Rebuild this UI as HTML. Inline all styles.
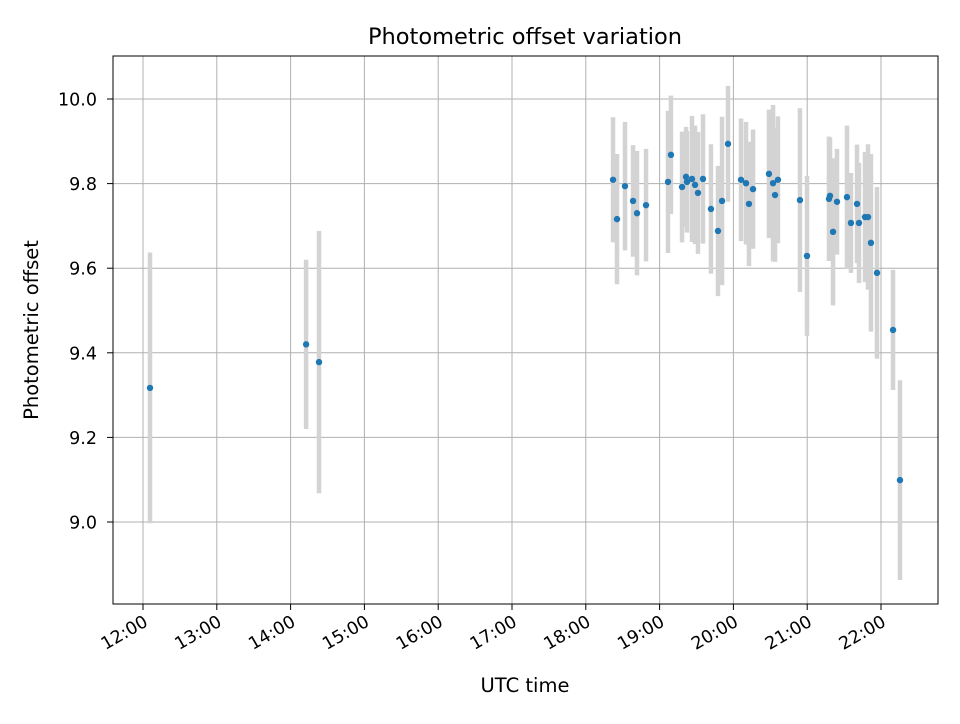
<!DOCTYPE html>
<html><head><meta charset="utf-8"><style>
body{margin:0;background:#fff;font-family:"DejaVu Sans","Liberation Sans",sans-serif}
</style></head><body>
<svg id="chart" width="960" height="720" xmlns="http://www.w3.org/2000/svg" font-family="DejaVu Sans, Liberation Sans, sans-serif">
<rect width="960" height="720" fill="#fff"/>
<text x="525" y="44" text-anchor="middle" font-size="22.5">Photometric offset variation</text>
<g id="grid"></g>
<g id="bars"></g>
<g id="pts"></g>
<rect x="113" y="56" width="825" height="548" fill="none" stroke="#000" stroke-width="1"/>
<g id="xt"></g>
<g id="yt"></g>
<text x="525" y="692" text-anchor="middle" font-size="19.5">UTC time</text>
<text transform="translate(38,330) rotate(-90)" text-anchor="middle" font-size="19.5">Photometric offset</text>
</svg>
<script>
const hours=[12.095,14.21,14.385,18.369,18.423,18.531,18.640,18.694,18.816,19.114,19.154,19.304,19.358,19.371,19.439,19.480,19.520,19.588,19.696,19.791,19.846,19.927,20.103,20.171,20.211,20.266,20.482,20.537,20.564,20.604,20.902,20.997,21.295,21.309,21.350,21.404,21.539,21.593,21.675,21.702,21.783,21.824,21.864,21.946,22.163,22.257];
const offsets=[9.317,9.42,9.378,9.809,9.716,9.794,9.759,9.730,9.749,9.804,9.868,9.792,9.816,9.804,9.811,9.797,9.778,9.811,9.740,9.688,9.759,9.894,9.809,9.801,9.752,9.787,9.823,9.801,9.773,9.809,9.761,9.629,9.764,9.771,9.686,9.757,9.768,9.707,9.752,9.707,9.721,9.721,9.660,9.589,9.454,9.099];
const errors=[0.32,0.20,0.31,0.148,0.154,0.152,0.132,0.147,0.133,0.168,0.140,0.131,0.118,0.12,0.149,0.14,0.144,0.153,0.153,0.154,0.199,0.137,0.145,0.145,0.147,0.141,0.152,0.185,0.158,0.150,0.217,0.189,0.147,0.138,0.174,0.125,0.169,0.118,0.140,0.142,0.154,0.172,0.210,0.203,0.142,0.236];
const xTicks=[12,13,14,15,16,17,18,19,20,21,22];
const xTickLabels=["12:00","13:00","14:00","15:00","16:00","17:00","18:00","19:00","20:00","21:00","22:00"];
const yTicks=[9.0,9.2,9.4,9.6,9.8,10.0];
const yTickLabels=["9.0","9.2","9.4","9.6","9.8","10.0"];
const X=h=>143+(h-12)*73.8;
const Y=v=>99+(10-v)*423;
const NS="http://www.w3.org/2000/svg";
function mk(t,a,p){const e=document.createElementNS(NS,t);for(const k in a)e.setAttribute(k,a[k]);p.appendChild(e);return e;}
const grid=document.getElementById('grid'),xt=document.getElementById('xt'),yt=document.getElementById('yt');
xTicks.forEach((h,i)=>{const x=X(h);
 const g=mk('line',{x1:x,x2:x,y1:56,y2:604,stroke:'#b0b0b0','stroke-width':1},grid);
 
 const t=mk('line',{x1:x,x2:x,y1:604,y2:610,stroke:'#000'},xt);
 
 const ax=x+6,ay=625;
 const l=mk('text',{x:ax,y:ay,'text-anchor':'end','font-size':17.5,transform:`rotate(-30 ${ax} ${ay})`},xt);
 
 l.textContent=xTickLabels[i];});
yTicks.forEach((v,i)=>{const y=Y(v);
 const g=mk('line',{x1:113,x2:938,y1:y,y2:y,stroke:'#b0b0b0','stroke-width':1},grid);
 
 const t=mk('line',{x1:107,x2:113,y1:y,y2:y,stroke:'#000'},yt);
 
 const l=mk('text',{x:97,y:y+6.5,'text-anchor':'end','font-size':17.5},yt);
 
 l.textContent=yTickLabels[i];});
const bars=document.getElementById('bars'),pts=document.getElementById('pts');
hours.forEach((h,i)=>{const x=X(h),v=offsets[i],e=errors[i];
 const b=mk('line',{x1:x,x2:x,y1:Y(v+e),y2:Y(v-e),stroke:'#d3d3d3','stroke-width':4.5},bars);
 
 const c=mk('circle',{cx:x,cy:Y(v),r:3.2,fill:'#1f77b4'},pts);
 });
</script>
</body></html>
